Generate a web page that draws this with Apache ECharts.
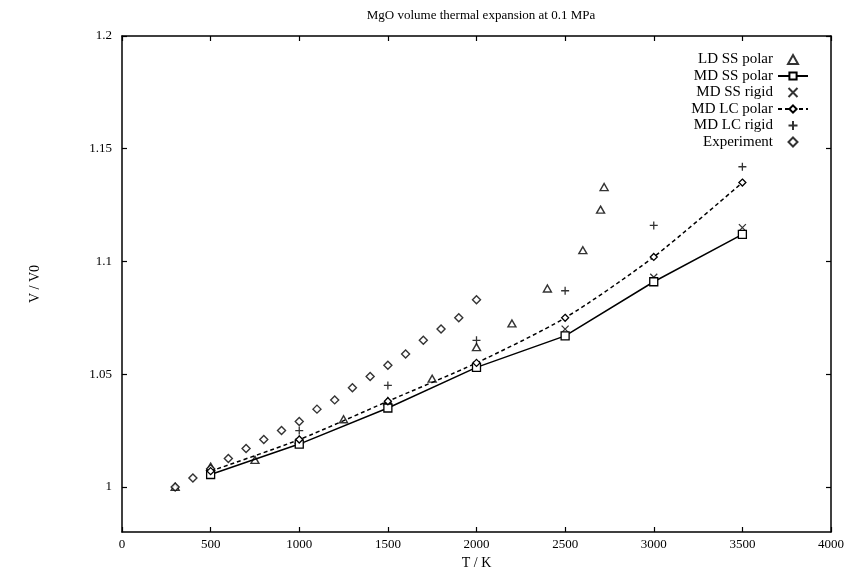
<!DOCTYPE html>
<html>
<head>
<meta charset="utf-8">
<script src="https://cdn.jsdelivr.net/npm/echarts@6/dist/echarts.min.js"></script>
<style>
html,body{margin:0;padding:0;background:#fff;}
#chart{width:858px;height:575px;}
</style>
</head>
<body>
<div id="chart"></div>
<script>
// ---- data ----
const chartTitle = 'MgO volume thermal expansion at 0.1 MPa';
const xName = 'T / K';
const yName = 'V / V0';
const yTickValues = [1, 1.05, 1.1, 1.15, 1.2];

const ldTemps = [300, 500, 750, 1000, 1250, 1500, 1750, 2000, 2200, 2400, 2600, 2700, 2720];
const ldSSPolar = [1.000, 1.009, 1.012, 1.021, 1.030, 1.038, 1.048, 1.062, 1.0725, 1.088, 1.105, 1.123, 1.133];

const mdTemps = [500, 1000, 1500, 2000, 2500, 3000, 3500];
const mdSSPolar = [1.0055, 1.019, 1.035, 1.053, 1.067, 1.091, 1.112];
const mdSSRigid = [1.006, 1.020, 1.036, 1.054, 1.070, 1.093, 1.115];
const mdLCPolar = [1.007, 1.021, 1.038, 1.055, 1.075, 1.102, 1.135];

const lcRigidTemps = [1000, 1500, 2000, 2500, 3000, 3500];
const mdLCRigid = [1.025, 1.045, 1.065, 1.087, 1.116, 1.142];

const expTemps = [300, 400, 500, 600, 700, 800, 900, 1000, 1100, 1200, 1300, 1400, 1500, 1600, 1700, 1800, 1900, 2000];
const experiment = [1.000, 1.004, 1.008, 1.0126, 1.017, 1.021, 1.025, 1.029, 1.0345, 1.0386, 1.044, 1.049, 1.054, 1.059, 1.065, 1.070, 1.075, 1.083];

const seriesNames = ['LD SS polar', 'MD SS polar', 'MD SS rigid', 'MD LC polar', 'MD LC rigid', 'Experiment'];

function pairs(xs, ys) { return xs.map((x, i) => [x, ys[i]]); }

const FONT = '"Liberation Serif", "DejaVu Serif", serif';
const crossPath = 'path://M0,0L10,10M10,0L0,10';
const plusPath = 'path://M5,0L5,10M0,5L10,5';
const triPath = 'path://M5,0L10,9L0,9Z';
const diamondPath = 'path://M5,0L10,5L5,10L0,5Z';
const strokeOnly = { color: 'rgba(0,0,0,0)', borderColor: '#000', borderWidth: 1.3 };

const chart = echarts.init(document.getElementById('chart'), null, { renderer: 'canvas' });

const axisCommon = {
  axisLine: { show: true, onZero: false, lineStyle: { color: '#000', width: 1.5 } },
  axisTick: { show: true, inside: true, length: 5, lineStyle: { color: '#000', width: 1.2 } },
  splitLine: { show: false }
};

chart.setOption({
  backgroundColor: '#fff',
  animation: false,
  title: {
    text: chartTitle,
    left: 476, top: 4, textAlign: 'center',
    textStyle: { fontFamily: FONT, fontSize: 13, fontWeight: 'normal', color: '#000' }
  },
  grid: { left: 122, right: 27, top: 36, bottom: 37 },
  legend: {
    data: seriesNames,
    orient: 'vertical',
    right: 44, top: 47,
    align: 'right',
    itemWidth: 30, itemHeight: 9, itemGap: 1.5,
    selectedMode: false,
    textStyle: { fontFamily: FONT, fontSize: 15, color: '#000', lineHeight: 14 }
  },
  xAxis: [
    Object.assign({}, axisCommon, {
      type: 'value', min: 0, max: 4000, interval: 500, position: 'bottom',
      name: xName, nameLocation: 'middle', nameGap: 24,
      nameTextStyle: { fontFamily: FONT, fontSize: 14, color: '#000' },
      axisLabel: { fontFamily: FONT, fontSize: 13, color: '#000', margin: 6, formatter: v => String(v) }
    }),
    Object.assign({}, axisCommon, {
      type: 'value', min: 0, max: 4000, interval: 500, position: 'top',
      axisLabel: { show: false }
    })
  ],
  yAxis: [
    Object.assign({}, axisCommon, {
      type: 'value', min: 0.98, max: 1.2, position: 'left',
      name: yName, nameLocation: 'middle', nameGap: 80,
      nameTextStyle: { fontFamily: FONT, fontSize: 14, color: '#000' },
      axisTick: { show: true, inside: true, length: 5, customValues: yTickValues, lineStyle: { color: '#000', width: 1.2 } },
      axisLabel: { fontFamily: FONT, fontSize: 13, color: '#000', margin: 10, customValues: yTickValues }
    }),
    Object.assign({}, axisCommon, {
      type: 'value', min: 0.98, max: 1.2, position: 'right',
      axisTick: { show: true, inside: true, length: 5, customValues: yTickValues, lineStyle: { color: '#000', width: 1.2 } },
      axisLabel: { show: false, customValues: yTickValues }
    })
  ],
  series: [
    {
      name: seriesNames[0], type: 'scatter', data: pairs(ldTemps, ldSSPolar),
      symbol: triPath, symbolSize: [8, 7],
      itemStyle: { color: '#fff', borderColor: '#000', borderWidth: 1.4 }
    },
    {
      name: seriesNames[1], type: 'line', data: pairs(mdTemps, mdSSPolar),
      symbol: 'rect', symbolSize: 8, showSymbol: true,
      itemStyle: { color: '#fff', borderColor: '#000', borderWidth: 1.3 },
      lineStyle: { color: '#000', width: 1.5, type: 'solid' }
    },
    {
      name: seriesNames[2], type: 'scatter', data: pairs(mdTemps, mdSSRigid),
      symbol: crossPath, symbolSize: 7,
      itemStyle: strokeOnly
    },
    {
      name: seriesNames[3], type: 'line', data: pairs(mdTemps, mdLCPolar),
      symbol: 'diamond', symbolSize: 7, showSymbol: true, smooth: 0.25,
      itemStyle: { color: '#fff', borderColor: '#000', borderWidth: 1.3 },
      lineStyle: { color: '#000', width: 1.5, type: [4, 3] }
    },
    {
      name: seriesNames[4], type: 'scatter', data: pairs(lcRigidTemps, mdLCRigid),
      symbol: plusPath, symbolSize: 8,
      itemStyle: strokeOnly
    },
    {
      name: seriesNames[5], type: 'scatter', data: pairs(expTemps, experiment),
      symbol: diamondPath, symbolSize: 8,
      itemStyle: { color: '#fff', borderColor: '#000', borderWidth: 1.4 }
    }
  ]
});
</script>
</body>
</html>
